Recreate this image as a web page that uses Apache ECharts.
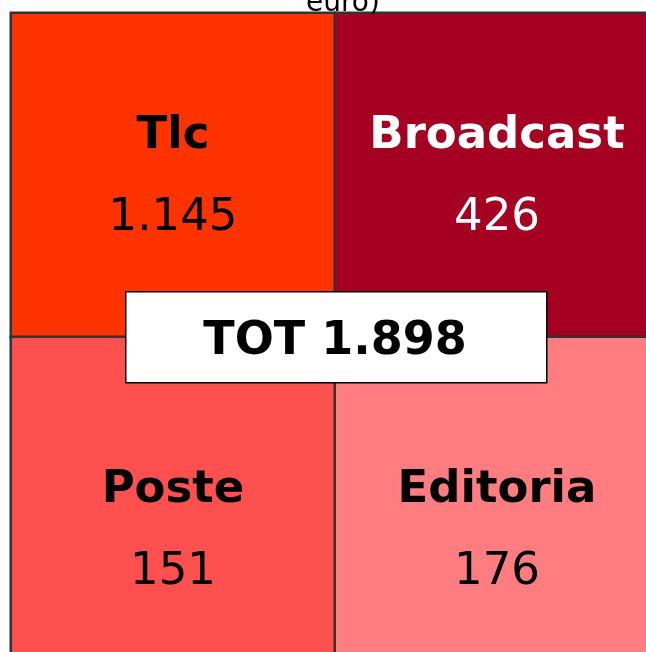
<!DOCTYPE html>
<html>
<head>
<meta charset="utf-8">
<script src="https://cdn.jsdelivr.net/npm/echarts@6/dist/echarts.min.js"></script>
<style>
  html, body { margin: 0; padding: 0; background: #fff; }
  #chart { width: 646px; height: 652px; }
</style>
</head>
<body>
<div id="chart"></div>
<script>
var names = ['Tlc', 'Broadcast', 'Poste', 'Editoria'];
var values = [1145, 426, 151, 176];
var cols = [0, 1, 0, 1];
var rows = [0, 0, 1, 1];
var colors = ['#ff3300', '#a50021', '#ff5050', '#ff7c80'];
var textColors = ['#000', '#fff', '#000', '#000'];

// formato italiano: 1.145
function fmt(n) {
  return String(n).replace(/\B(?=(\d{3})+(?!\d))/g, '.');
}

var total = values.reduce(function(a, b) { return a + b; }, 0);

var data = names.map(function(n, i) {
  return {
    name: n,
    value: [cols[i], rows[i], values[i]],
    itemStyle: { color: colors[i] },
    label: {
      color: textColors[i],
      // riga inferiore: testo più in basso
      offset: [0, rows[i] ? 32 : 2],
      rich: {
        n: { fontSize: 45, fontWeight: 'bold', color: textColors[i], lineHeight: 82, fontFamily: 'DejaVu Sans' },
        v: { fontSize: 45, color: textColors[i], lineHeight: 82, fontFamily: 'DejaVu Sans' }
      }
    }
  };
});

var chart = echarts.init(document.getElementById('chart'));
chart.setOption({
  animation: false,
  title: {
    text: 'euro)',
    left: 301,
    top: -15,
    textStyle: { fontSize: 28, fontWeight: 'normal', color: '#000', fontFamily: 'DejaVu Sans' }
  },
  grid: { left: 11, top: 13, width: 648, height: 648, outerBoundsMode: 'none' },
  xAxis: { type: 'category', data: ['a', 'b'], show: false },
  yAxis: { type: 'category', data: ['a', 'b'], inverse: true, show: false },
  series: [{
    type: 'heatmap',
    data: data,
    itemStyle: { borderColor: '#333', borderWidth: 2.5 },
    label: {
      show: true,
      formatter: function(p) {
        return '{n|' + p.name + '}\n{v|' + fmt(p.value[2]) + '}';
      }
    },
    emphasis: { disabled: true }
  }],
  graphic: [{
    type: 'rect',
    z: 100,
    left: 125,
    top: 291,
    shape: { width: 421, height: 91 },
    style: { fill: '#fff', stroke: '#000', lineWidth: 1.5 }
  }, {
    type: 'text',
    z: 101,
    x: 335,
    y: 342,
    style: {
      text: 'TOT ' + fmt(total),
      font: 'bold 46px "DejaVu Sans"',
      fill: '#000',
      textAlign: 'center',
      textVerticalAlign: 'middle'
    }
  }]
});
</script>
</body>
</html>
